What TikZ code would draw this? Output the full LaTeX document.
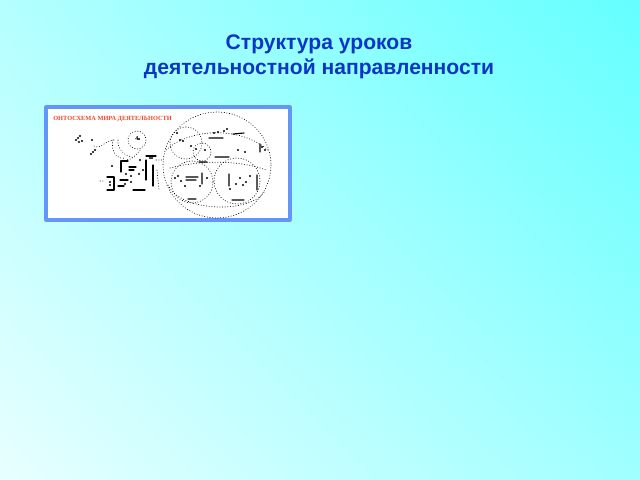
\documentclass[tikz,border=0pt]{standalone}
\usepackage{fontspec}
\usetikzlibrary{shadings}
\setmainfont{Liberation Sans}
\newfontfamily\schemefont{Liberation Serif}
\definecolor{titleblue}{RGB}{14,54,196}
\definecolor{frameblue}{RGB}{100,150,250}
\definecolor{schemered}{RGB}{235,70,40}
\definecolor{bgul}{RGB}{180,255,255}
\definecolor{bgur}{RGB}{100,255,255}
\definecolor{bgll}{RGB}{232,255,255}
\definecolor{bglr}{RGB}{160,255,255}
\tikzset{
  dotline/.style={line width=0.5pt, dash pattern=on 0.3pt off 1.6pt},
  bar/.style={line width=0.8pt},
}
\begin{document}
\begin{tikzpicture}[x=0.025cm, y=-0.025cm, line join=round, line cap=round, >=stealth]
  % background of the slide
  \shade[upper left=bgul, upper right=bgur, lower left=bgll, lower right=bglr]
    (0,0) rectangle (640,480);
  \node[font=\bfseries\fontsize{15}{17.5}\selectfont, text=titleblue, align=center]
    (title) at (319,57) {Структура уроков\\деятельностной направленности};
  % the scheme picture
  \draw[frameblue, line width=2.2pt, fill=white] (46,107) rectangle (290,220);
  \node[font=\schemefont\bfseries\fontsize{4.5}{5}\selectfont, text=schemered, anchor=west, inner sep=0pt]
    (onto) at (53,119) {ОНТОСХЕМА МИРА ДЕЯТЕЛЬНОСТИ};
  % right part: the world of activity
  \draw[dotline] (217,165) ellipse[x radius=54, y radius=53];
  \draw[dotline] (186,143) circle[radius=16];
  \draw[dotline] (202,152) circle[radius=9];
  \draw[dotline] (192,182) circle[radius=21];
  \draw[dotline] (237,181) circle[radius=23];
  \draw[dotline] (166,150) .. controls (190,128) and (240,126) .. (268,150);
  \draw[dotline] (170,168) .. controls (200,160) and (240,160) .. (266,170);
  \draw[dotline] (168,185) .. controls (180,212) and (250,214) .. (264,192);
  \draw[bar] (209,138)--(223,138) (215,157)--(229,157) (199,162)--(207,162)
    (233,134)--(244,133) (186,177)--(198,177) (186,180)--(196,180)
    (202,173)--(202,184) (188,199)--(196,199) (232,200)--(244,200)
    (229,174)--(229,186) (260,144)--(260,152) (257,175)--(257,190);
  % left part: the subject and its activity
  \draw[dotline] (137,140) circle[radius=9];
  \node[font=\bfseries\fontsize{4}{4}\selectfont, inner sep=0pt] (four) at (137,139) {4};
  \draw[dotline] (94,146) .. controls (100,150) and (106,140) .. (114,140);
  \draw[dotline] (113,140) .. controls (110,152) and (118,160) .. (125,158);
  \draw[dotline] (118,140) .. controls (117,150) and (126,156) .. (132,157);
  \draw[dotline] (140,150) .. controls (136,156) and (131,160) .. (126,160);
  \draw[dotline] (156,160)--(162,160) (100,181)--(104,181) (157,170)--(159,190);
  \draw[bar] (121,172)--(121,161)--(128,161) (146,156)--(156,156)
    (146,160)--(146,180) (153,165)--(153,186) (129,167)--(136,167)
    (129,170)--(134,170) (107,177)--(114,177)--(114,190)--(107,190)
    (120,180)--(128,180) (118,186)--(124,186) (133,190)--(145,190);
  % scattered marks of the small labels
  \foreach \x/\y in {78/138, 80/136, 76/140, 82/141, 79/142, 92/140, 93/152, 95/150, 91/154,
      110/182, 110/185, 131/176, 139/174, 143/170, 125/184, 150/158, 152/158,
      177/133, 180/140, 191/146, 196/149, 205/150, 214/133, 218/132, 238/150,
      245/152, 262/147, 265/150, 181/181, 185/186, 200/186, 207/178, 240/178,
      246/182, 230/189, 250/176, 112/166, 139/139, 140/160, 224/131, 227/129,
      183/141, 175/178, 178/176, 243/185, 236/184, 126/174, 131/182}
    \fill (\x,\y) circle (0.75pt);
\end{tikzpicture}
\end{document}
